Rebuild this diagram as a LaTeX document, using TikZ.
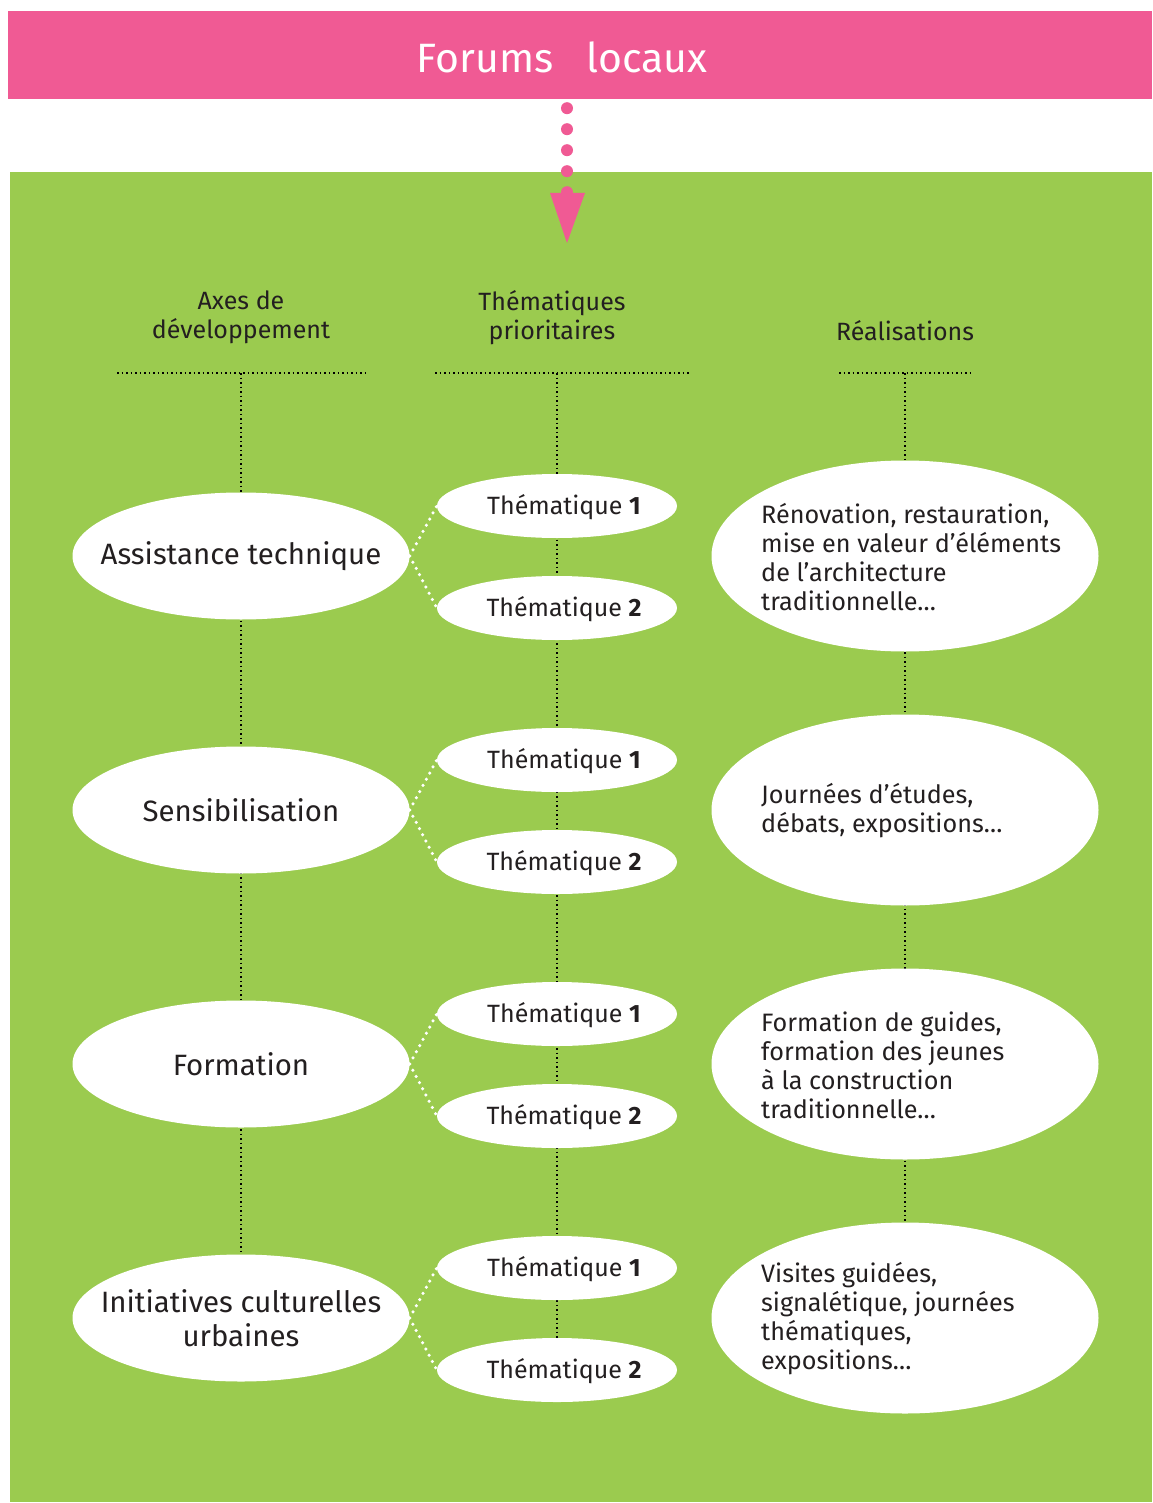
\documentclass[tikz,border=0pt]{standalone}
\usepackage{fontspec}
\setmainfont{Fira Sans}
\usetikzlibrary{shapes.geometric}
\definecolor{pinkc}{HTML}{F05A94}
\definecolor{greenc}{HTML}{9BCB4F}
\definecolor{txt}{HTML}{231F20}
\begin{document}
\begin{tikzpicture}[x=1pt,y=-1pt,
  blackdot/.style={draw=black, line width=2.2pt, dash pattern=on 1.8pt off 2.7pt},
  whitedot/.style={draw=white, line width=3.5pt, line cap=round, dash pattern=on 0pt off 7pt},
  pinkdot/.style={draw=pinkc, line width=12pt, line cap=round, dash pattern=on 0pt off 21pt},
  header/.style={align=center, text=txt, font=\fontsize{25}{29}\selectfont, inner sep=0pt},
  axe/.style={ellipse, fill=white, inner sep=0pt, minimum width=337pt, minimum height=127pt},
  axetxt/.style={align=center, text=txt, inner sep=0pt, font=\fontsize{29.4}{34}\selectfont},
  them/.style={ellipse, fill=white, inner sep=0pt, minimum width=240pt, minimum height=64pt},
  themtxt/.style={text=txt, inner sep=0pt, font=\fontsize{25}{29}\selectfont},
  real/.style={ellipse, fill=white, inner sep=0pt, minimum width=387pt, minimum height=191pt},
  realtxt/.style={align=left, text=txt, inner sep=0pt, font=\fontsize{25.2}{29}\selectfont}
]
\useasboundingbox (0,0) rectangle (1152,1503);
\fill[white] (0,0) rectangle (1152,1503);
% banner
\node[fill=pinkc, inner sep=0pt, minimum width=1144pt, minimum height=88pt] (banner) at (580,55) {};
\node[text=white, font=\fontsize{41}{48}\selectfont, inner sep=0pt] (title) at (562,57) {Forums\hspace{0.8em}locaux};
% green area
\fill[greenc] (10,172) rectangle (1152,1502);
% pink arrow
\coordinate (arrowtip) at (567,243);
\draw[pinkdot] ([yshift=-9pt]banner.south -| arrowtip) -- ([yshift=50pt]arrowtip);
\fill[pinkc] ([xshift=-17pt,yshift=50pt]arrowtip) -- ([xshift=18pt,yshift=50pt]arrowtip) -- (arrowtip) -- cycle;
% headers
\node[header] (h1) at (241,317) {Axes de\\développement};
\node[header] (h2) at (552,318) {Thématiques\\prioritaires};
\node[header] (h3) at (905,331) {Réalisations};
% header bars
\coordinate (b1l) at (117,373); \coordinate (b1r) at (368,373); \coordinate (b1c) at (241,373);
\coordinate (b2l) at (435,373); \coordinate (b2r) at (689,373); \coordinate (b2c) at (557,373);
\coordinate (b3l) at (839,373); \coordinate (b3r) at (972,373); \coordinate (b3c) at (905,373);
\draw[blackdot] (b1l) -- (b1r);
\draw[blackdot] (b2l) -- (b2r);
\draw[blackdot] (b3l) -- (b3r);
% vertical lines (behind ellipses)
\draw[blackdot] (b1c) -- (241,1254);
\draw[blackdot] (b2c) -- (557,1338);
\draw[blackdot] (b3c) -- (905,1222);
\foreach \i/\lab/\rtext in {
  0/{Assistance technique}/{Rénovation, restauration,\\mise en valeur d’éléments\\de l’architecture\\traditionnelle…},
  1/{Sensibilisation}/{Journées d’études,\\débats, expositions…},
  2/{Formation}/{Formation de guides,\\formation des jeunes\\à la construction\\traditionnelle…},
  3/{Initiatives culturelles\\urbaines}/{Visites guidées,\\signalétique, journées\\thématiques,\\expositions…}}{
  \pgfmathsetmacro{\Y}{556+254*\i}
  \node[axe] (a\i) at (241,\Y) {};
  \node[axetxt] (at\i) at (241,\Y) {\lab};
  \node[them] (t\i a) at (557,\Y-50) {};
  \node[themtxt] (tt\i a) at (564,\Y-49) {Thématique \textbf{1}};
  \node[them] (t\i b) at (557,\Y+52) {};
  \node[themtxt] (tt\i b) at (564,\Y+53) {Thématique \textbf{2}};
  \node[real] (r\i) at (905,\Y) {};
  \node[realtxt, anchor=west] (rt\i) at (761,\Y+1) {\rtext};
  \draw[whitedot] (a\i.east) -- (t\i a.west);
  \draw[whitedot] (a\i.east) -- (t\i b.west);
}
\end{tikzpicture}
\end{document}
